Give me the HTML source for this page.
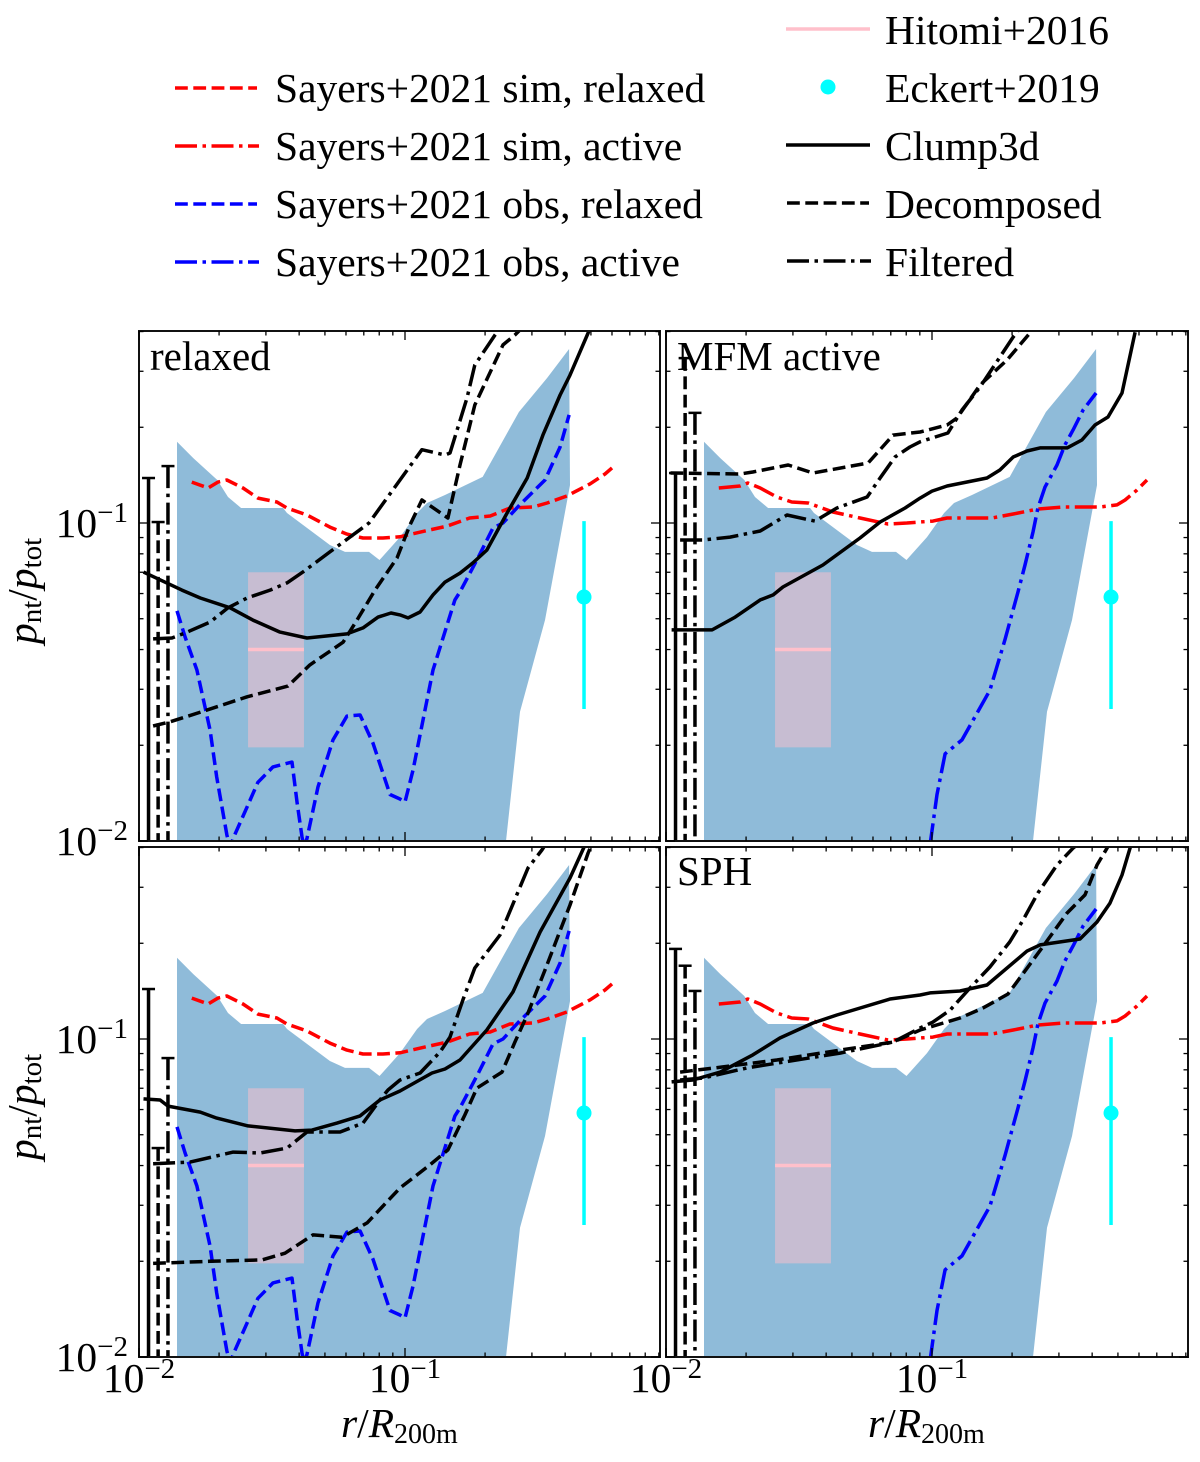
<!DOCTYPE html>
<html lang="en">
<head>
<meta charset="utf-8">
<title>Non-thermal pressure fraction profiles</title>
<style>
html,body{margin:0;padding:0;background:#fff;}
body{width:1200px;height:1462px;overflow:hidden;}
svg{display:block;}
text{font-family:"Liberation Serif","DejaVu Serif",serif;fill:#000;}
</style>
</head>
<body>
<svg id="chart" xmlns="http://www.w3.org/2000/svg" width="1200" height="1462" viewBox="0 0 1200 1462">
  <defs>
    <clipPath id="clip-0"><rect x="139" y="331" width="521" height="510"/></clipPath>
    <clipPath id="clip-1"><rect x="666" y="331" width="522" height="510"/></clipPath>
    <clipPath id="clip-2"><rect x="139" y="847" width="521" height="510"/></clipPath>
    <clipPath id="clip-3"><rect x="666" y="847" width="522" height="510"/></clipPath>
  </defs>
  <g id="panels"></g>

  <g font-size="41.5">
    <line x1="175" x2="257" y1="88" y2="88" stroke="#ff0000" stroke-width="3.5" stroke-dasharray="12.8,5.5"/>
    <text x="275" y="102">Sayers+2021 sim, relaxed</text>
    <line x1="175" x2="259" y1="146" y2="146" stroke="#ff0000" stroke-width="3.5" stroke-dasharray="22,5.5,3.5,5.5"/>
    <text x="275" y="160">Sayers+2021 sim, active</text>
    <line x1="175" x2="257" y1="204" y2="204" stroke="#0000ff" stroke-width="3.5" stroke-dasharray="12.8,5.5"/>
    <text x="275" y="218">Sayers+2021 obs, relaxed</text>
    <line x1="175" x2="259" y1="262" y2="262" stroke="#0000ff" stroke-width="3.5" stroke-dasharray="22,5.5,3.5,5.5"/>
    <text x="275" y="276">Sayers+2021 obs, active</text>

    <line x1="786" x2="870" y1="29" y2="29" stroke="#ffc0cb" stroke-width="3.5"/>
    <text x="885" y="44">Hitomi+2016</text>
    <circle cx="828" cy="87" r="7.5" fill="#00ffff"/>
    <text x="885" y="102">Eckert+2019</text>
    <line x1="786" x2="870" y1="145" y2="145" stroke="#000" stroke-width="3.5"/>
    <text x="885" y="160">Clump3d</text>
    <line x1="787" x2="869" y1="203" y2="203" stroke="#000" stroke-width="3.5" stroke-dasharray="12.8,5.5"/>
    <text x="885" y="218">Decomposed</text>
    <line x1="787" x2="871" y1="261" y2="261" stroke="#000" stroke-width="3.5" stroke-dasharray="22,5.5,3.5,5.5"/>
    <text x="885" y="276">Filtered</text>
  </g>

  <text x="150" y="370" font-size="41">relaxed</text>
  <text x="677" y="370" font-size="41">MFM active</text>
  <text x="677" y="885" font-size="41">SPH</text>

  <text transform="translate(36,644) rotate(-90)" font-size="41.5"><tspan font-style="italic">p</tspan><tspan font-size="29" dy="5">nt</tspan><tspan dy="-5">/</tspan><tspan font-style="italic">p</tspan><tspan font-size="29" dy="5">tot</tspan></text>
  <text transform="translate(36,1160) rotate(-90)" font-size="41.5"><tspan font-style="italic">p</tspan><tspan font-size="29" dy="5">nt</tspan><tspan dy="-5">/</tspan><tspan font-style="italic">p</tspan><tspan font-size="29" dy="5">tot</tspan></text>
  <text x="341" y="1437" font-size="41.5"><tspan font-style="italic">r</tspan><tspan>/</tspan><tspan font-style="italic">R</tspan><tspan font-size="28" dy="6">200m</tspan></text>
  <text x="868" y="1437" font-size="41.5"><tspan font-style="italic">r</tspan><tspan>/</tspan><tspan font-style="italic">R</tspan><tspan font-size="28" dy="6">200m</tspan></text>
</svg>

<script>
// ---------- observational / reference data ----------
const bandR = [0.0139,0.016,0.0197,0.0216,0.0242,0.0348,0.036,0.0522,0.0595,0.0732,0.0802,0.0958,0.111,0.121,0.1414,0.196,0.268,0.342,0.414];
const bandUpper = [0.18,0.16,0.1365,0.1207,0.1115,0.1115,0.1075,0.0853,0.0811,0.0811,0.0765,0.0903,0.1075,0.1156,0.1225,0.1396,0.2234,0.2858,0.3525];
const bandLowerR = [0.417,0.336,0.2705,0.2397,0.2,0.0139];
const bandLower = [0.1316,0.0495,0.0255,0.01,0.005,0.005];

const hitomiR = [0.0257,0.0417];
const hitomiP = [0.0197,0.04,0.07];
const eckertR = [0.471];
const eckertP = [0.026,0.0585,0.1014];

const simRelaxedR = [0.0158,0.0182,0.0198,0.0214,0.0246,0.028,0.033,0.036,0.0428,0.0522,0.0605,0.0695,0.0826,0.0958,0.124,0.144,0.175,0.209,0.248,0.303,0.342,0.406,0.496,0.565,0.6];
const simRelaxedP = [0.1345,0.1288,0.1345,0.1365,0.1288,0.1198,0.1164,0.1115,0.106,0.0971,0.0923,0.0897,0.0897,0.0905,0.0951,0.0978,0.1037,0.1052,0.1115,0.1123,0.1156,0.1216,0.1327,0.1426,0.149];
const simActiveR = [0.0158,0.019,0.0203,0.0226,0.0261,0.0297,0.0342,0.0424,0.0536,0.0683,0.0805,0.0902,0.1008,0.114,0.168,0.202,0.25,0.311,0.428,0.496,0.532,0.59,0.643];
const simActiveP = [0.1288,0.1307,0.1336,0.1288,0.1207,0.1164,0.1156,0.1083,0.1037,0.0993,0.1,0.1007,0.1014,0.1037,0.1037,0.1067,0.1107,0.1123,0.1123,0.114,0.1181,0.127,0.1365];
const obsRelaxedR = [0.0139,0.0149,0.0165,0.0185,0.0196,0.0214,0.022,0.0226,0.0255,0.028,0.0319,0.0376,0.0393,0.041,0.0417,0.0428,0.0471,0.0536,0.0605,0.0678,0.0758,0.0878,0.0958,0.1,0.1072,0.1274,0.154,0.161,0.188,0.214,0.2336,0.27,0.336,0.383,0.414];
const obsRelaxedP = [0.0529,0.0438,0.0345,0.0223,0.0159,0.01044,0.00957,0.0102,0.0128,0.0153,0.0171,0.0177,0.0132,0.0103,0.00957,0.0102,0.0148,0.0208,0.0247,0.0249,0.0203,0.014,0.01355,0.01326,0.0167,0.0345,0.0573,0.0607,0.0776,0.0964,0.1,0.114,0.1365,0.1734,0.2187];
const obsActiveR = [0.0983,0.1044,0.112,0.1296,0.165,0.188,0.2105,0.2237,0.2397,0.25,0.266,0.295,0.316,0.339,0.37,0.414];
const obsActiveP = [0.0097,0.014,0.0188,0.0208,0.0298,0.0429,0.0607,0.0738,0.0937,0.1115,0.1297,0.1522,0.1759,0.196,0.2266,0.2564];

// ---------- relaxed panel ----------
const relaxedClumpR = [0.0104,0.0145,0.017,0.022,0.0268,0.0339,0.0428,0.0605,0.0695,0.0792,0.0886,0.0958,0.1026,0.114,0.1274,0.1414,0.161,0.18,0.203,0.242,0.288,0.33,0.383,0.417,0.488,0.541];
const relaxedClumpP = [0.0701,0.0615,0.0581,0.0541,0.0495,0.0454,0.0435,0.0448,0.0468,0.0506,0.0521,0.0514,0.0503,0.0525,0.0594,0.0652,0.0696,0.0749,0.0822,0.1075,0.1385,0.189,0.2527,0.2919,0.3958,0.485];
const relaxedDecompR = [0.0113,0.0131,0.018,0.0255,0.0363,0.0439,0.0585,0.066,0.0771,0.0933,0.1044,0.1158,0.145,0.161,0.183,0.2336,0.259,0.295];
const relaxedDecompP = [0.023,0.0237,0.0258,0.0284,0.0307,0.0358,0.0422,0.0495,0.0615,0.0776,0.0986,0.1181,0.1037,0.1522,0.235,0.363,0.39,0.435];
const relaxedFilterR = [0.0113,0.0133,0.0149,0.0185,0.0216,0.0255,0.0311,0.036,0.0413,0.0522,0.0732,0.0958,0.1158,0.1414,0.1476,0.171,0.183,0.218,0.248];
const relaxedFilterP = [0.0432,0.0435,0.0451,0.0488,0.0541,0.0581,0.0615,0.0648,0.0701,0.0811,0.1,0.1365,0.17,0.1636,0.166,0.2472,0.314,0.39,0.451];
const relaxedErrTops = [0.1385,0.1007,0.151];

// ---------- MFM active panel ----------
const activeClumpR = [0.0105,0.0149,0.0182,0.0226,0.0253,0.0275,0.0389,0.0536,0.0638,0.0792,0.0902,0.1,0.114,0.161,0.18,0.202,0.2276,0.2547,0.322,0.366,0.41,0.459,0.518,0.58];
const activeClumpP = [0.0461,0.0461,0.0506,0.0573,0.0594,0.0629,0.0738,0.0897,0.1007,0.1115,0.1198,0.126,0.1307,0.1385,0.1468,0.1613,0.1684,0.1722,0.1722,0.1824,0.2033,0.2154,0.2564,0.398];
const activeDecompR = [0.0104,0.019,0.0212,0.0288,0.0357,0.0575,0.0714,0.0902,0.114,0.124,0.1515,0.1914,0.2336,0.266];
const activeDecompP = [0.1436,0.1426,0.1447,0.1522,0.1436,0.1544,0.189,0.1933,0.2033,0.2138,0.2716,0.3256,0.3958,0.451];
const activeFilterR = [0.0113,0.0138,0.0174,0.0226,0.0285,0.0363,0.0439,0.057,0.0638,0.0726,0.0826,0.0902,0.1148,0.1296,0.1515,0.202,0.2296];
const activeFilterP = [0.0884,0.0884,0.0903,0.0944,0.106,0.1014,0.1115,0.1207,0.1385,0.1613,0.1734,0.18,0.1919,0.2266,0.2676,0.3846,0.4414];
const activeErrTops = [0.1436,0.33,0.222];

// ---------- lower-left panel ----------
const lowerClumpR = [0.0104,0.012,0.01285,0.017,0.0196,0.0257,0.0386,0.0447,0.0555,0.0678,0.0805,0.0958,0.1263,0.1414,0.161,0.203,0.2547,0.322,0.417,0.475,0.541];
const lowerClumpP = [0.0648,0.0643,0.0615,0.0589,0.0564,0.0533,0.0514,0.0517,0.0544,0.0573,0.0643,0.0686,0.0782,0.0805,0.0859,0.1067,0.1406,0.217,0.3208,0.4074,0.4884];
const lowerDecompR = [0.0113,0.0185,0.029,0.0354,0.0451,0.058,0.072,0.0958,0.124,0.145,0.168,0.1864,0.2315,0.259,0.288,0.336,0.417,0.488,0.541];
const lowerDecompP = [0.0197,0.02,0.0202,0.0212,0.0242,0.0238,0.0264,0.034,0.0402,0.0448,0.0577,0.0701,0.0787,0.0978,0.119,0.1648,0.2638,0.3846,0.471];
const lowerFilterR = [0.0113,0.01555,0.0226,0.0285,0.036,0.0428,0.057,0.0695,0.0805,0.0863,0.0958,0.114,0.1354,0.1476,0.165,0.183,0.2276,0.29,0.327,0.366];
const lowerFilterP = [0.0405,0.041,0.0441,0.0438,0.0454,0.051,0.051,0.0544,0.0643,0.0691,0.0743,0.0782,0.091,0.1014,0.1327,0.1672,0.2123,0.345,0.393,0.454];
const lowerErrTops = [0.1436,0.0454,0.0871];

// ---------- SPH panel ----------
const sphClumpR = [0.0105,0.0126,0.016,0.0212,0.0268,0.0357,0.0439,0.0695,0.0902,0.0983,0.1274,0.161,0.2276,0.2547,0.36,0.417,0.467,0.518,0.555,0.595];
const sphClumpP = [0.0733,0.0743,0.0787,0.0891,0.1007,0.1123,0.119,0.1336,0.1375,0.1396,0.1416,0.1479,0.189,0.1976,0.2063,0.2333,0.2676,0.328,0.398,0.471];
const sphDecompR = [0.0113,0.0164,0.0261,0.0451,0.0714,0.0902,0.1274,0.1555,0.193,0.259,0.322,0.376,0.417,0.455,0.509];
const sphDecompP = [0.0787,0.0817,0.0859,0.0923,0.0978,0.1067,0.1164,0.1252,0.1385,0.1933,0.249,0.2838,0.3525,0.398,0.471];
const sphFilterR = [0.0113,0.0138,0.0202,0.0451,0.0714,0.0902,0.1008,0.117,0.139,0.165,0.196,0.22,0.25,0.295,0.339,0.41];
const sphFilterP = [0.0743,0.0754,0.0811,0.0903,0.0978,0.1083,0.113,0.1233,0.1447,0.1684,0.2018,0.2367,0.2878,0.3525,0.398,0.454];
const sphErrTops = [0.192,0.17,0.1416];

// ---------- shared error-bar radii and ticks ----------
const errRadii = [0.01086,0.0118,0.01285];
const errBottom = 0.005;
const xMajorTicks = [0.01,0.1];
const xMinorTicks = [0.02,0.03,0.04,0.05,0.06,0.07,0.08,0.09,0.2,0.3,0.4,0.5,0.6,0.7,0.8,0.9];
const yMajorTicks = [0.01,0.1];
const yMinorTicks = [0.02,0.03,0.04,0.05,0.06,0.07,0.08,0.09,0.2,0.3,0.4];
const majorTickBase = ['10','10'];
const majorTickExponent = ['\u22122','\u22121'];

const NS = 'http://www.w3.org/2000/svg';
const LINE_W = 3.5;
const DASHED = '12.8,5.5';
const DASHDOT = '22,5.5,3.5,5.5';
const root = document.getElementById('panels');

const panels = [
  {key:'relaxed', left:139, right:660, top:331, bottom:841, yLabels:true, xLabels:false,
   sayers:'relaxed', clump:[relaxedClumpR,relaxedClumpP], decomp:[relaxedDecompR,relaxedDecompP], filter:[relaxedFilterR,relaxedFilterP], errs:relaxedErrTops},
  {key:'mfm-active', left:666, right:1188, top:331, bottom:841, yLabels:false, xLabels:false,
   sayers:'active', clump:[activeClumpR,activeClumpP], decomp:[activeDecompR,activeDecompP], filter:[activeFilterR,activeFilterP], errs:activeErrTops},
  {key:'lower-left', left:139, right:660, top:847, bottom:1357, yLabels:true, xLabels:true,
   sayers:'relaxed', clump:[lowerClumpR,lowerClumpP], decomp:[lowerDecompR,lowerDecompP], filter:[lowerFilterR,lowerFilterP], errs:lowerErrTops},
  {key:'sph', left:666, right:1188, top:847, bottom:1357, yLabels:false, xLabels:true,
   sayers:'active', clump:[sphClumpR,sphClumpP], decomp:[sphDecompR,sphDecompP], filter:[sphFilterR,sphFilterP], errs:sphErrTops}
];

function xScale(panel, r){ return panel.left + (Math.log10(r) + 2) * 266; }
function yScale(panel, p){ return panel.bottom - (Math.log10(p) + 2) * 318; }

function make(parent, tag, name, attrs){
  const el = document.createElementNS(NS, tag);
  
  
  for (const k in attrs) el.setAttribute(k, attrs[k]);
  parent.appendChild(el);
  return el;
}

function polyPoints(panel, rs, ps){
  return rs.map(function(r, i){ return xScale(panel, r).toFixed(1) + ',' + yScale(panel, ps[i]).toFixed(1); }).join(' ');
}

function series(parent, panel, name, rs, ps, color, dash){
  const attrs = {points: polyPoints(panel, rs, ps), fill:'none', stroke:color, 'stroke-width':LINE_W, 'stroke-linejoin':'round'};
  if (dash) attrs['stroke-dasharray'] = dash;
  make(parent, 'polyline', name, attrs);
}

function errorBar(parent, panel, name, r, top, dash){
  const x = xScale(panel, r);
  const attrs = {x1:x, x2:x, y1:yScale(panel, top), y2:yScale(panel, errBottom), stroke:'#000', 'stroke-width':LINE_W};
  if (dash) attrs['stroke-dasharray'] = dash;
  make(parent, 'line', name, attrs);
  make(parent, 'line', name + '-cap', {x1:x - 6.5, x2:x + 6.5, y1:yScale(panel, top), y2:yScale(panel, top), stroke:'#000', 'stroke-width':2.5});
}

panels.forEach(function(panel, idx){
  const g = make(root, 'g', 'panel-' + panel.key, {});
  const plot = make(g, 'g', 'plot-area-' + panel.key, {'clip-path':'url(#clip-' + idx + ')'});

  // scatter band
  const upperPts = polyPoints(panel, bandR, bandUpper);
  const lowerPts = polyPoints(panel, bandLowerR, bandLower);
  make(plot, 'polygon', 'simulation-scatter-band', {points: upperPts + ' ' + lowerPts, fill:'#1f77b4', 'fill-opacity':0.5});

  // Hitomi box and line
  const hx0 = xScale(panel, hitomiR[0]), hx1 = xScale(panel, hitomiR[1]);
  make(plot, 'rect', 'hitomi-box', {x:hx0, y:yScale(panel, hitomiP[2]), width:hx1 - hx0, height:yScale(panel, hitomiP[0]) - yScale(panel, hitomiP[2]), fill:'#ffc0cb', 'fill-opacity':0.5});
  make(plot, 'line', 'hitomi-line', {x1:hx0, x2:hx1, y1:yScale(panel, hitomiP[1]), y2:yScale(panel, hitomiP[1]), stroke:'#ffc0cb', 'stroke-width':LINE_W});

  // Eckert point
  const ex = xScale(panel, eckertR[0]);
  make(plot, 'line', 'eckert-error-bar', {x1:ex, x2:ex, y1:yScale(panel, eckertP[0]), y2:yScale(panel, eckertP[2]), stroke:'#00ffff', 'stroke-width':LINE_W});
  make(plot, 'circle', 'eckert-point', {cx:ex, cy:yScale(panel, eckertP[1]), r:7.5, fill:'#00ffff'});

  // Sayers curves
  if (panel.sayers === 'relaxed') {
    series(plot, panel, 'sayers-sim-relaxed-line', simRelaxedR, simRelaxedP, '#ff0000', DASHED);
    series(plot, panel, 'sayers-obs-relaxed-line', obsRelaxedR, obsRelaxedP, '#0000ff', DASHED);
  } else {
    series(plot, panel, 'sayers-sim-active-line', simActiveR, simActiveP, '#ff0000', DASHDOT);
    series(plot, panel, 'sayers-obs-active-line', obsActiveR, obsActiveP, '#0000ff', DASHDOT);
  }

  // simulation curves
  series(plot, panel, 'clump3d-line', panel.clump[0], panel.clump[1], '#000', null);
  series(plot, panel, 'decomposed-line', panel.decomp[0], panel.decomp[1], '#000', DASHED);
  series(plot, panel, 'filtered-line', panel.filter[0], panel.filter[1], '#000', DASHDOT);

  // error bars of innermost bin
  errorBar(plot, panel, 'clump3d-error-bar', errRadii[0], panel.errs[0], null);
  errorBar(plot, panel, 'decomposed-error-bar', errRadii[1], panel.errs[1], DASHED);
  errorBar(plot, panel, 'filtered-error-bar', errRadii[2], panel.errs[2], DASHDOT);

  // frame
  make(g, 'rect', 'axes-frame', {x:panel.left, y:panel.top, width:panel.right - panel.left, height:panel.bottom - panel.top, fill:'none', stroke:'#111', 'stroke-width':2});

  // ticks
  const ticks = make(g, 'g', 'axis-ticks', {stroke:'#000', 'stroke-width':1.3});
  function xTick(value, len){
    const x = xScale(panel, value);
    if (x > panel.right) return;
    make(ticks, 'line', 'x-tick', {x1:x, x2:x, y1:panel.bottom, y2:panel.bottom - len});
    make(ticks, 'line', 'x-tick-top', {x1:x, x2:x, y1:panel.top, y2:panel.top + len});
  }
  function yTick(value, len){
    const y = yScale(panel, value);
    make(ticks, 'line', 'y-tick', {x1:panel.left, x2:panel.left + len, y1:y, y2:y});
    make(ticks, 'line', 'y-tick-right', {x1:panel.right, x2:panel.right - len, y1:y, y2:y});
  }
  xMajorTicks.forEach(function(v){ xTick(v, 9); });
  xMinorTicks.forEach(function(v){ xTick(v, 4.5); });
  yMajorTicks.forEach(function(v){ yTick(v, 9); });
  yMinorTicks.forEach(function(v){ yTick(v, 4.5); });

  // tick labels
  if (panel.yLabels) {
    yMajorTicks.forEach(function(v, i){
      const t = make(g, 'text', 'y-tick-label', {x:128, y:yScale(panel, v) + 14, 'text-anchor':'end', 'font-size':41.5});
      t.textContent = majorTickBase[i];
      const s = document.createElementNS(NS, 'tspan');
      s.setAttribute('font-size', '29');
      s.setAttribute('dy', '-15');
      s.textContent = majorTickExponent[i];
      t.appendChild(s);
    });
  }
  if (panel.xLabels) {
    xMajorTicks.forEach(function(v, i){
      const t = make(g, 'text', 'x-tick-label', {x:xScale(panel, v), y:panel.bottom + 35, 'text-anchor':'middle', 'font-size':41.5});
      t.textContent = majorTickBase[i];
      const s = document.createElementNS(NS, 'tspan');
      s.setAttribute('font-size', '29');
      s.setAttribute('dy', '-14');
      s.textContent = majorTickExponent[i];
      t.appendChild(s);
    });
  }
});
</script>
</body>
</html>
